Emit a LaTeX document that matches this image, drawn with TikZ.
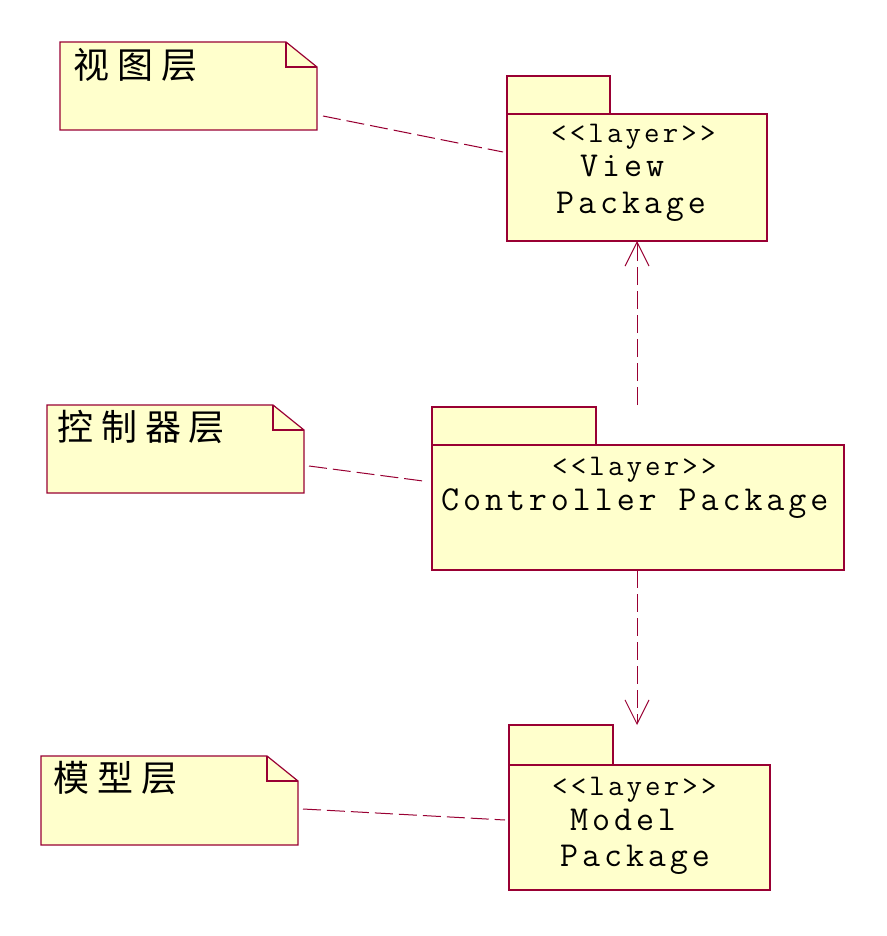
\documentclass[tikz,border=0pt]{standalone}
\usepackage{fontspec}
\newfontfamily\cjk{Noto Sans CJK SC}[LetterSpace=22]
\newfontfamily\pkgfont{Latin Modern Mono}[LetterSpace=11.2,Ligatures=TeXOff]
\newfontfamily\layerfont{Latin Modern Mono}[LetterSpace=10.5,Ligatures=TeXOff]
\usetikzlibrary{calc,arrows.meta}
\definecolor{umlfill}{RGB}{255,255,204}
\definecolor{umlline}{RGB}{153,0,51}
\tikzset{
  pkgbox/.style={draw=umlline, fill=umlfill, line width=1.2pt, inner sep=0pt, anchor=north west, outer sep=0pt},
  notebg/.style={inner sep=0pt, anchor=north west, outer sep=0pt},
  noteline/.style={draw=umlline, fill=umlfill, line width=1.2pt, line join=miter},
  link/.style={draw=umlline, line width=1pt, dash pattern=on 18pt off 6pt},
  dep/.style={link, -{Straight Barb[length=24pt,width=24pt,line width=1pt]}},
  pkgtext/.style={anchor=base west, inner sep=0pt, font=\pkgfont\fontsize{35}{35}\selectfont},
  layertext/.style={anchor=base west, inner sep=0pt, font=\layerfont\fontsize{30}{30}\selectfont},
  notetext/.style={anchor=west, inner sep=0pt, font=\cjk\fontsize{36}{36}\selectfont}
}
\begin{document}
\begin{tikzpicture}[x=1pt,y=-1pt]
\useasboundingbox[fill=white] (0,0) rectangle (886,936);

% notes
\node[notebg, minimum width=257pt, minimum height=88pt] (n1) at (60,42) {};
\node[notebg, minimum width=257pt, minimum height=88pt] (n2) at (47,405) {};
\node[notebg, minimum width=257pt, minimum height=89pt] (n3) at (41,756) {};
\foreach \n in {n1,n2,n3}{
  \path[noteline] (\n.north west) -- ($(\n.north east)+(-31,0)$) -- ($(\n.north east)+(0,25)$)
     -- (\n.south east) -- (\n.south west) -- cycle;
  \draw[umlline, line width=1.2pt] ($(\n.north east)+(-31,0)$) |- ($(\n.north east)+(0,25)$);
}
\node[notetext] (t1) at (73,65) {视图层};
\node[notetext] (t2) at (57,427) {控制器层};
\node[notetext] (t3) at (53,778) {模型层};

% packages
\node[pkgbox, minimum width=103pt, minimum height=38pt] (vt) at (507,76) {};
\node[pkgbox, minimum width=260pt, minimum height=127pt] (vb) at (507,114) {};
\node[pkgbox, minimum width=164pt, minimum height=38pt] (ct) at (432,407) {};
\node[pkgbox, minimum width=412pt, minimum height=125pt] (cb) at (432,445) {};
\node[pkgbox, minimum width=104pt, minimum height=40pt] (mt) at (509,725) {};
\node[pkgbox, minimum width=261pt, minimum height=125pt] (mb) at (509,765) {};

\node[layertext] (vl) at (551,143) {<<layer>>};
\node[pkgtext] (vn1) at (580,177) {View};
\node[pkgtext] (vn2) at (556,213) {Package};
\node[layertext] (cl) at (552,475) {<<layer>>};
\node[pkgtext] (cn) at (441,510) {Controller Package};
\node[layertext] (ml) at (552,795) {<<layer>>};
\node[pkgtext] (mn1) at (570,830) {Model};
\node[pkgtext] (mn2) at (560,866) {Package};

% note links
\draw[link] ($(n1.south east)+(6,-14)$) -- ($(vb.west)+(-4,-25.5)$);
\draw[link] ($(n2.south east)+(5,-27)$) -- ($(cb.west)+(-9,-26.5)$);
\draw[link] ($(n3.south east)+(5,-36)$) -- ($(mb.west)+(-4,-7.5)$);

% dependencies
\draw[dep] ($(cb.north)+(-1,-40)$) -- ($(vb.south)+(0,0)$);
\draw[dep] ($(cb.south)+(-1,0)$) -- ($(cb.south)+(-1,155)$);
\end{tikzpicture}
\end{document}
